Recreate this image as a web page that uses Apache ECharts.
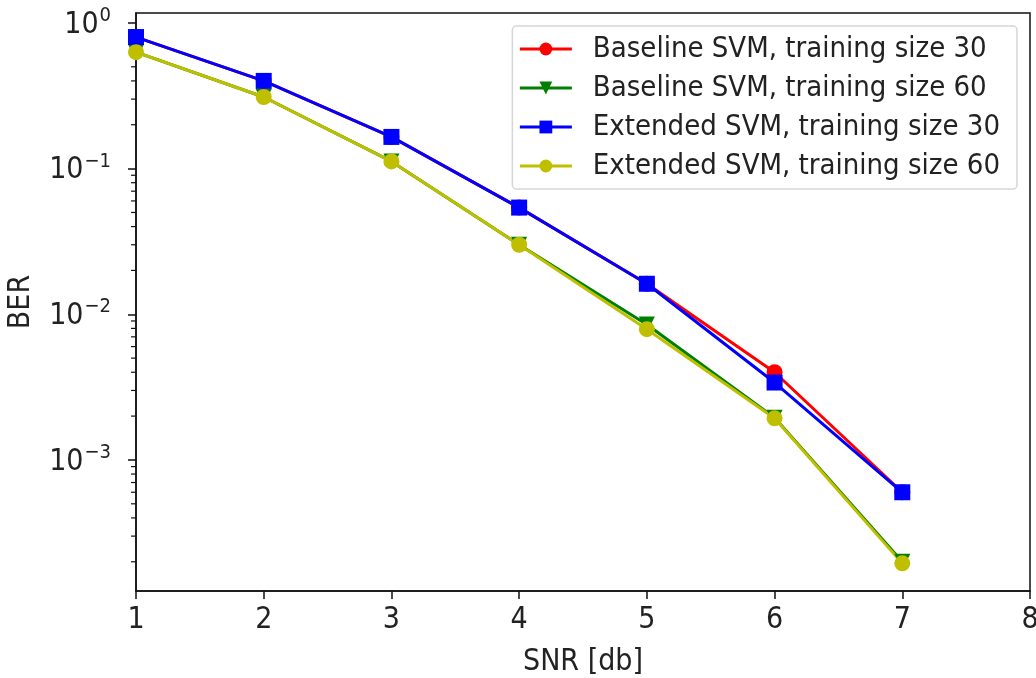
<!DOCTYPE html>
<html>
<head>
<meta charset="utf-8">
<script src="https://cdn.jsdelivr.net/npm/echarts@6/dist/echarts.min.js"></script>
<style>
  html, body { margin: 0; padding: 0; background: #fff; }
  #chart { width: 1036px; height: 678px; }
</style>
</head>
<body>
<div id="chart"></div>
<script>
// SNR values on x axis
const snr = [1, 2, 3, 4, 5, 6, 7];
// BER
const baseline30 = [0.80, 0.40, 0.165, 0.054, 0.0162, 0.0040, 0.00060];
const baseline60 = [0.63, 0.31, 0.112, 0.030, 0.0085, 0.00195, 0.00020];
const extended30 = [0.80, 0.40, 0.165, 0.054, 0.0162, 0.0034, 0.00060];
const extended60 = [0.63, 0.31, 0.112, 0.030, 0.0079, 0.00193, 0.000195];
const seriesNames = ['Baseline SVM, training size 30', 'Baseline SVM, training size 60',
  'Extended SVM, training size 30', 'Extended SVM, training size 60'];
// y tick marks
const majorTicks = [0.001, 0.01, 0.1, 1];
const minorTicks = [];
for (let k = -4; k <= 0; k++) {
  for (let m = 2; m <= 9; m++) minorTicks.push(m * Math.pow(10, k));
}

const FONT = "'DejaVu Sans Condensed', 'DejaVu Sans', sans-serif";
const FS = 30;
const yMin = 1.26e-4, yMax = 1.17;

function pairs(ys) {
  return snr.map((x, i) => [x, ys[i]]);
}

function lineSeries(name, ys, color, symbol, rot) {
  return {
    name: name, type: 'line', data: pairs(ys),
    symbol: symbol, symbolSize: 16, symbolRotate: rot || 0,
    lineStyle: { color: color, width: 3 },
    itemStyle: { color: color },
    emphasis: { disabled: true },
    animation: false
  };
}

// short minor ticks on the log axis (matplotlib style)
const minorTickSeries = {
  type: 'custom', silent: true, animation: false, clip: false, z: 1,
  data: minorTicks.filter(v => v >= yMin && v <= yMax).map(v => [1, v]),
  renderItem: function (params, api) {
    const p = api.coord([api.value(0), api.value(1)]);
    return {
      type: 'line',
      shape: { x1: p[0] - 5, y1: p[1], x2: p[0], y2: p[1] },
      style: { stroke: '#111', lineWidth: 1.2 }
    };
  }
};

const chart = echarts.init(document.getElementById('chart'));
chart.setOption({
  backgroundColor: '#fff',
  textStyle: { fontFamily: FONT },
  grid: {
    left: 136, right: 6, top: 13, bottom: 87, outerBoundsMode: 'none', containLabel: false,
    show: true, borderColor: '#111', borderWidth: 1.5
  },
  legend: {
    orient: 'vertical', right: 19, top: 26,
    itemWidth: 52, itemHeight: 16, itemGap: 9,
    padding: [8, 17, 8, 6],
    borderColor: '#d6d6d6', borderWidth: 1.5, borderRadius: 4,
    backgroundColor: 'rgba(255,255,255,0.85)',
    lineStyle: { width: 3 },
    textStyle: { fontSize: 29, color: '#222', fontFamily: FONT, lineHeight: 30, padding: [0, 0, 0, 16] },
    data: seriesNames
  },
  xAxis: {
    type: 'value', min: 1, max: 8, interval: 1,
    name: 'SNR [db]', nameLocation: 'middle', nameGap: 56,
    nameTextStyle: { fontSize: FS, color: '#222', fontFamily: FONT },
    axisLine: { lineStyle: { color: '#111', width: 1.5 } },
    axisTick: { length: 8, lineStyle: { color: '#111', width: 1.5 } },
    axisLabel: { fontSize: FS, color: '#222', margin: 14, fontFamily: FONT },
    splitLine: { show: false }
  },
  yAxis: {
    type: 'log', logBase: 10, min: yMin, max: yMax,
    name: 'BER', nameLocation: 'middle', nameGap: 100,
    nameTextStyle: { fontSize: FS, color: '#222', fontFamily: FONT },
    axisLine: { lineStyle: { color: '#111', width: 1.5 } },
    axisTick: { length: 8, customValues: majorTicks, lineStyle: { color: '#111', width: 1.5 } },
    axisLabel: {
      color: '#222', margin: 25, fontFamily: FONT,
      customValues: majorTicks,
      formatter: v => '{b|10}{s|' + Math.round(Math.log10(v)).toString().replace('-', '−') + '}',
      rich: {
        b: { fontSize: FS, fontFamily: FONT, color: '#222', lineHeight: 34, verticalAlign: 'bottom' },
        s: { fontSize: 20, fontFamily: FONT, color: '#222', lineHeight: 34, verticalAlign: 'top', padding: [0, 0, 0, 1] }
      }
    },
    splitLine: { show: false }
  },
  series: [
    minorTickSeries,
    lineSeries(seriesNames[0], baseline30, '#ff0000', 'circle'),
    lineSeries(seriesNames[1], baseline60, '#008000', 'triangle', 180),
    lineSeries(seriesNames[2], extended30, '#0000ff', 'rect'),
    lineSeries(seriesNames[3], extended60, '#bfbf00', 'circle')
  ]
});
</script>
</body>
</html>
